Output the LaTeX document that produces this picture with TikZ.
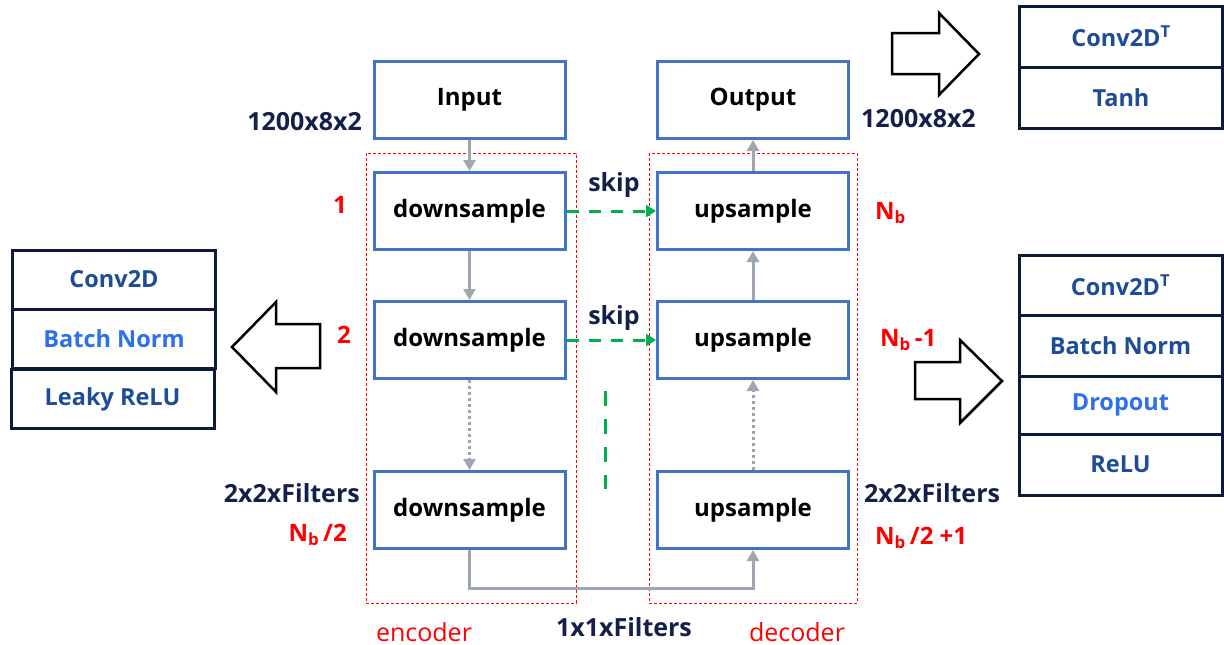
\documentclass[tikz,border=0pt]{standalone}
\usepackage{fontspec}
\setmainfont{Open Sans}
\usetikzlibrary{arrows.meta}
\definecolor{boxblue}{HTML}{4472C4}
\definecolor{navy}{HTML}{0E1A3C}
\definecolor{stackblue}{HTML}{1F4C96}
\definecolor{brightblue}{HTML}{2E6FEA}
\definecolor{labnavy}{HTML}{13204A}
\definecolor{arrgray}{HTML}{9EA6B2}
\definecolor{skipgreen}{HTML}{00B050}
\definecolor{redc}{HTML}{FF0000}
\begin{document}
\begin{tikzpicture}[x=1pt,y=-1pt,
  blk/.style={draw=boxblue,line width=3pt,minimum width=191pt,minimum height=77pt,inner sep=0pt,font=\bfseries\fontsize{24}{28}\selectfont,text=black},
  cell/.style={draw=navy,line width=3pt,minimum width=203pt,minimum height=59pt,inner sep=0pt,font=\bfseries\fontsize{23.5}{28}\selectfont,text=stackblue},
  lab/.style={font=\bfseries\fontsize{25}{29}\selectfont,text=labnavy,inner sep=0pt},
  rlab/.style={font=\bfseries\fontsize{24}{28}\selectfont,text=redc,inner sep=0pt},
  flow/.style={draw=arrgray,line width=3pt,-{Triangle[length=11pt,width=12pt]}},
  dflow/.style={flow,dash pattern=on 3pt off 3pt},
  skiparr/.style={draw=skipgreen,line width=3pt,dash pattern=on 12pt off 10pt,-{Triangle[length=10pt,width=12pt]}},
  region/.style={draw=redc,line width=1pt,dash pattern=on 3pt off 2pt},
  blockarrow/.style={draw=black,line width=2.5pt,fill=white,line join=miter}
]
\useasboundingbox (0,0) rectangle (1224,645);

% region boxes
\draw[region] (366,153) rectangle (576,603);
\draw[region] (649,153) rectangle (857,603);

% main blocks
\node[blk] (in)  at (469.5,100) {Input};
\node[blk] (out) at (753,100) {Output};
\node[blk] (d1) at (469.5,211) {downsample};
\node[blk] (d2) at (469.5,340) {downsample};
\node[blk] (d3) at (469.5,510) {downsample};
\node[blk] (u1) at (753,211) {upsample};
\node[blk] (u2) at (753,340) {upsample};
\node[blk] (u3) at (753,510) {upsample};

% flow connectors
\draw[flow] (in) -- (d1);
\draw[flow] (d1) -- (d2);
\draw[dflow] (d2) -- (d3);
\draw[dflow] (u3) -- (u2);
\draw[flow] (u2) -- (u1);
\draw[flow] (u1) -- (out);
\coordinate (bl) at (469.5,588);
\coordinate (br) at (753,588);
\draw[flow] (d3.south) -- (bl) -- (br) -- (u3.south);

% skip connections
\draw[skiparr] (d1.east) -- (u1.west);
\draw[skiparr] (d2.east) -- (u2.west);
\node[lab] (s1) at (614,185) {skip};
\node[lab] (s2) at (614,318) {skip};
\coordinate (gv1) at (605,391);
\coordinate (gv2) at (605,489);
\draw[draw=skipgreen,line width=3pt,dash pattern=on 15pt off 13pt] (gv1) -- (gv2);

% labels
\node[lab,anchor=east] (l1) at (362,122) {1200x8x2};
\node[lab,anchor=west] (l2) at (861,119) {1200x8x2};
\node[rlab] (n1) at (340,205) {1};
\node[rlab] (n2) at (344,335) {2};
\node[lab,anchor=east] (l3) at (360,493) {2x2xFilters};
\node[rlab,anchor=east] (n3) at (347,535) {N\textsubscript{b}\,/2};
\node[rlab,anchor=west] (n4) at (875,213) {N\textsubscript{b}};
\node[rlab,anchor=west] (n5) at (880,340) {N\textsubscript{b}\,-1};
\node[lab,anchor=west] (l4) at (864,493) {2x2xFilters};
\node[rlab,anchor=west] (n6) at (875,538) {N\textsubscript{b}\,/2 +1};
\node[lab] (l5) at (624,627) {1x1xFilters};
\node[font=\fontsize{25}{29}\selectfont,text=redc,inner sep=0pt] (enc) at (424,632) {encoder};
\node[font=\fontsize{25}{29}\selectfont,text=redc,inner sep=0pt] (dec) at (797,632) {decoder};

% left stack
\node[cell] (c1) at (114,279.5) {Conv2D};
\node[cell,text=brightblue] (c2) at (114,338.5) {Batch Norm};
\node[cell] (c3) at (112.5,399) {Leaky ReLU};

% top right stack
\node[cell,minimum height=61pt] (t1) at (1121,36.5) {Conv2D\textsuperscript{T}};
\node[cell,minimum height=61pt] (t2) at (1121,97.5) {Tanh};

% mid right stack
\node[cell,minimum height=60pt] (r1) at (1120.5,285) {Conv2D\textsuperscript{T}};
\node[cell,minimum height=61pt] (r2) at (1120.5,345.5) {Batch Norm};
\node[cell,minimum height=58pt,text=brightblue] (r3) at (1120.5,405) {Dropout};
\node[cell,minimum height=61pt] (r4) at (1120.5,464.5) {ReLU};

% block arrows
\draw[blockarrow] (232,347) -- (276,302) -- (276,324) -- (320,324) -- (320,368) -- (276,368) -- (276,392) -- cycle;
\draw[blockarrow] (979,54) -- (939,13) -- (939,33) -- (892,33) -- (892,74) -- (939,74) -- (939,95) -- cycle;
\draw[blockarrow] (1002,381) -- (960,340) -- (960,362) -- (915,362) -- (915,399) -- (960,399) -- (960,423) -- cycle;
\end{tikzpicture}
\end{document}
